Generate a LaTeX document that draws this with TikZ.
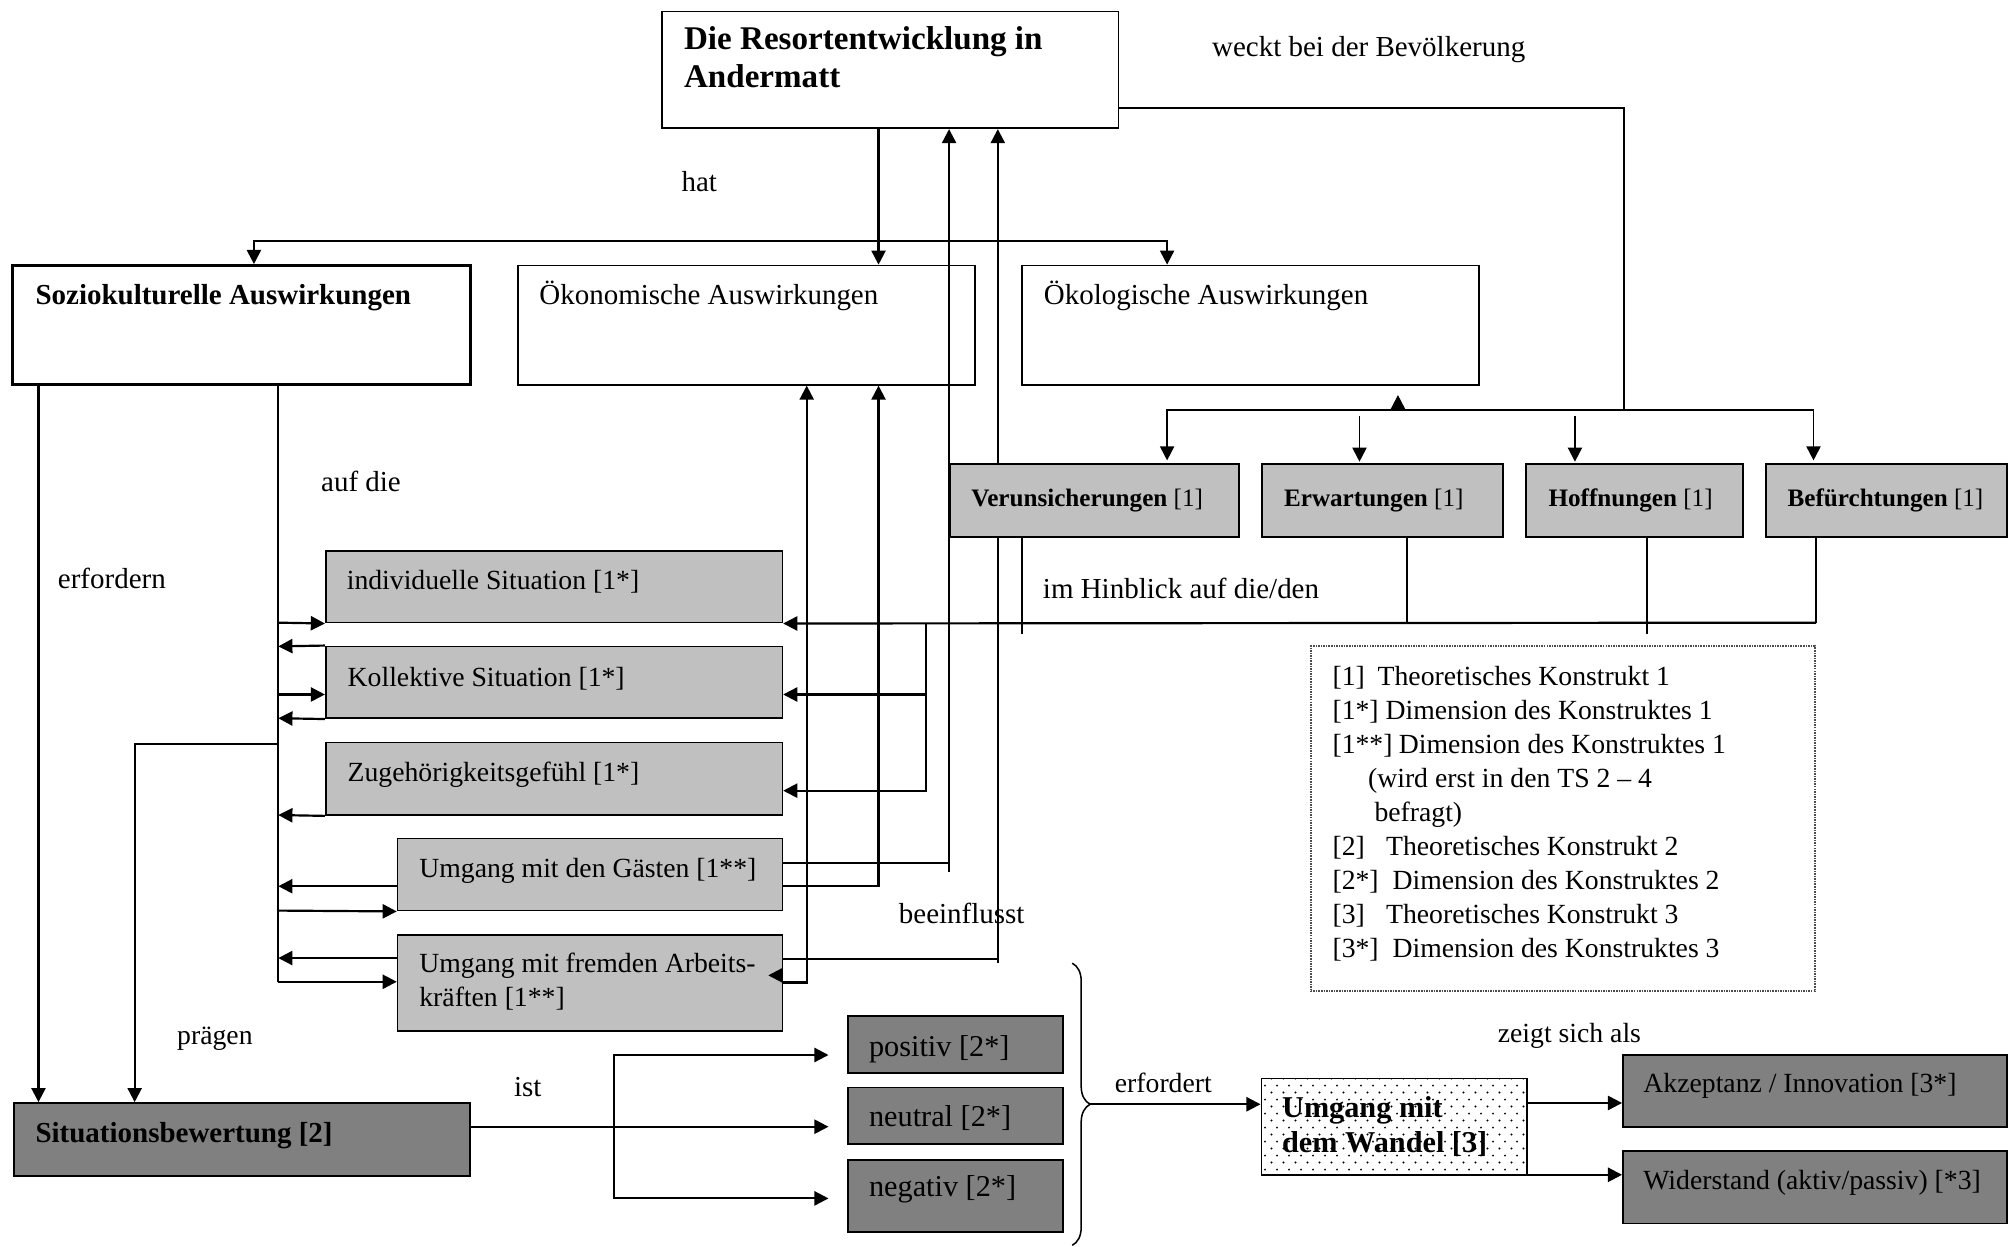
\documentclass[tikz,border=0pt]{standalone}
\usepackage{fontspec}
\setmainfont{Liberation Serif}
\usetikzlibrary{arrows.meta,fit,patterns,decorations.pathreplacing,calc}
\pgfdeclarelayer{bg}
\pgfsetlayers{bg,main}
\pgfdeclarepatternformonly{wdots}{\pgfpointorigin}{\pgfpoint{4.5pt}{5.4pt}}{\pgfpoint{4.5pt}{5.4pt}}{%
  \pgfpathcircle{\pgfpoint{0.6pt}{0.6pt}}{0.42pt}%
  \pgfpathcircle{\pgfpoint{2.85pt}{3.3pt}}{0.42pt}%
  \pgfusepath{fill}}
\definecolor{lgrayc}{HTML}{C0C0C0}
\definecolor{dgrayc}{HTML}{808080}
\newcommand\fsT{\fontsize{12.9}{15}\selectfont}
\newcommand\fsA{\fontsize{11.3}{13.5}\selectfont}
\newcommand\fsB{\fontsize{10.8}{13}\selectfont}
\newcommand\fsC{\fontsize{9.8}{12}\selectfont}
\newcommand\fsD{\fontsize{11.8}{14}\selectfont}
\begin{document}
\begin{tikzpicture}[x=0.5pt,y=-0.5pt,
  >={Triangle[length=5.5pt,width=5.5pt]},
  box/.style={draw=black,line width=0.65pt,inner sep=0pt},
  lgray/.style={box,fill=lgrayc},
  dgray/.style={box,fill=dgrayc},
  legendbox/.style={draw=black!70,line width=0.7pt,dash pattern=on 0.6pt off 0.4pt,inner sep=0pt},
  txt/.style={anchor=base west,inner sep=0pt,font=\fsA,yshift=-0.5pt},
  con/.style={line width=0.85pt},
  mid/.style={line width=0.75pt},
  thinc/.style={line width=0.6pt}]
\useasboundingbox (0,0) rectangle (1568,972);

% ---------- boxes ----------
\node[box,fit={(516,9) (872,100)}] (title) {};
\node[box,line width=1.1pt,fit={(10,207) (367,300)}] (sozio) {};
\node[box,fit={(404,207) (760,300)}] (oekon) {};
\node[box,fit={(797,207) (1153,300)}] (oekol) {};
\node[lgray,fit={(741,362) (966,418.5)}] (verun) {};
\node[lgray,fit={(984,362) (1172,418.5)}] (erw) {};
\node[lgray,fit={(1190,362) (1359,418.5)}] (hoff) {};
\node[lgray,fit={(1377,362) (1565,418.5)}] (befu) {};
\node[lgray,fit={(254,429.5) (610,485.5)}] (ind) {};
\node[lgray,fit={(254,504) (610,560)}] (koll) {};
\node[lgray,fit={(254,579) (610,635.5)}] (zug) {};
\node[lgray,fit={(310,653.7) (610,710)}] (gast) {};
\node[lgray,fit={(310,729) (610,803.7)}] (arb) {};
\node[legendbox,fit={(1022,504) (1415,773)}] (legend) {};
\node[dgray,fit={(11,860) (366.5,917)}] (sit) {};
\node[dgray,fit={(661,792) (829,836.4)}] (pos) {};
\node[dgray,fit={(661,848) (829,892)}] (neu) {};
\node[dgray,fit={(661,904.5) (829,960.4)}] (neg) {};
\node[box,preaction={fill=white},pattern=wdots,fit={(983.5,840.8) (1190.4,916.2)}] (wandel) {};
\node[dgray,fit={(1265.4,822.6) (1565,878.5)}] (akz) {};
\node[dgray,fit={(1265.4,897.2) (1565,953.9)}] (wid) {};

% ---------- connectors behind boxes ----------
\begin{pgfonlayer}{bg}
\draw[con] (gast.east |- 0,673) -- (740,673);
\draw[con,->] (740,680) -- (740,0 |- title.south);
\draw[con] (arb.east |- 0,748) -- (778,748);
\draw[con,->] (778,751) -- (778,0 |- title.south);
\end{pgfonlayer}

% ---------- connectors ----------
\draw[con,->] (685,0 |- title.south) -- (685,0 |- oekon.north);
\draw[mid,->] (685,188) -| (198,0 |- sozio.north);
\draw[mid,->] (685,188) -| (910,0 |- oekol.north);

\draw[con,->] (gast.east |- 0,691) -| (685,0 |- oekon.south);
\draw[con,->] (arb.east |- 0,766) -| (629,0 |- oekon.south);
\draw[con,->] (arb.east |- 0,760.5) -- (599,760.5);

\draw[mid] (title.east |- 0,84.5) -| (1266,320);
\draw[mid,->] (1266,320) -| (910,359);
\draw[mid,->] (1266,320) -| (1414,359);
\draw[mid,->] (1060,324) -- (1060,360);
\draw[mid,->] (1228,324) -- (1228,360);
\draw[mid,->] (1090,320) -- (1090,308);

\draw[thinc] (797,0 |- verun.south) -- (797,494);
\draw[thinc] (1097,0 |- erw.south) -- (1097,485.5);
\draw[thinc] (1284,0 |- hoff.south) -- (1284,494);
\draw[con] (1416,0 |- befu.south) -- (1416,485.5);
\draw[con,->] (1416,485.5) -- (ind.south east);
\draw[con,->] (722,485.5) |- (koll.east |- 0,541.5);
\draw[con,->] (722,541.5) |- (zug.east |- 0,616.5);

\draw[con,->] (30,0 |- sozio.south) -- (30,0 |- sit.north);
\draw[con] (217,0 |- sozio.south) -- (217,766);
\draw[con,->] (217,580) -| (105,0 |- sit.north);
\draw[con,->] (217,485.5) -- (ind.south west);
\draw[con,->] (217,541.5) -- (koll.west |- 0,541.5);
\draw[con,->] (217,710) -- (gast.south west);
\draw[con,->] (217,765.5) -- (arb.west |- 0,765.5);
\draw[con,->] (koll.north west) -- (217,504);
\draw[con,->] (koll.south west) -- (217,560);
\draw[con,->] (zug.south west) -- (217,635.5);
\draw[con,->] (gast.west |- 0,691) -- (217,691);
\draw[con,->] (arb.west |- 0,747) -- (217,747);

\draw[con,->] (sit.east |- 0,878.5) -- (646,878.5);
\draw[con,->] (479,878.5) |- (646,822.6);
\draw[con,->] (479,878.5) |- (646,934.4);
\draw[line width=0.6pt,decorate,decoration={brace,amplitude=7pt}] (836,751) -- (836,971);
\coordinate (btip) at (850,861);
\draw[con,->] (btip) -- (wandel.west |- btip);
\draw[con,->] (wandel.east |- 0,860) -- (akz.west |- 0,860);
\draw[con,->] (1172,916) -- (wid.west |- 0,916);

% ---------- texts ----------
\node[txt,font={\fsT\bfseries}] (t1) at (533,37.7) {Die Resortentwicklung in};
\node[txt,font={\fsT\bfseries}] (t2) at (533,67.6) {Andermatt};
\node[txt] (lweckt) at (944.7,42.9) {weckt bei der Bevölkerung};
\node[txt] (lhat) at (531,148) {hat};
\node[txt,font={\fsA\bfseries}] (tsozio) at (27.3,236.5) {Soziokulturelle Auswirkungen};
\node[txt] (toekon) at (420.2,236.5) {Ökonomische Auswirkungen};
\node[txt] (toekol) at (813.5,236.5) {Ökologische Auswirkungen};
\node[txt] (lauf) at (250,382) {auf die};
\node[txt] (lerf) at (44.8,457.5) {erfordern};
\node[txt,font=\fsC] (tverun) at (757,393.8) {\textbf{Verunsicherungen} [1]};
\node[txt,font=\fsC] (terw) at (1000.8,393.8) {\textbf{Erwartungen} [1]};
\node[txt,font=\fsC] (thoff) at (1207,393.8) {\textbf{Hoffnungen} [1]};
\node[txt,font=\fsC] (tbefu) at (1393.4,393.8) {\textbf{Befürchtungen} [1]};
\node[txt] (lhin) at (812.8,465.3) {im Hinblick auf die/den};
\node[txt,font=\fsB] (tind) at (270,458.7) {individuelle Situation [1*]};
\node[txt,font=\fsB] (tkoll) at (270.7,534) {Kollektive Situation [1*]};
\node[txt,font=\fsB] (tzug) at (270.7,608) {Zugehörigkeitsgefühl [1*]};
\node[txt,font=\fsB] (tgast) at (326.6,683) {Umgang mit den Gästen [1**]};
\node[txt,font=\fsB] (tarb1) at (326.6,757.6) {Umgang mit fremden Arbeits-};
\node[txt,font=\fsB] (tarb2) at (326.6,783.6) {kräften [1**]};
\node[txt] (lbee) at (700.5,718.7) {beeinflusst};
\node[txt,font=\fsB] (lpraeg) at (137.8,813.5) {prägen};
\node[txt] (list) at (400.4,853.8) {ist};
\node[txt,font={\fsA\bfseries}] (tsit) at (27.3,890.2) {Situationsbewertung [2]};
\node[txt,font=\fsD] (tpos) at (677.2,822.6) {positiv [2*]};
\node[txt,font=\fsD] (tneu) at (677.2,877.2) {neutral [2*]};
\node[txt,font=\fsD] (tneg) at (677.2,931.8) {negativ [2*]};
\node[txt,font=\fsB] (lerfd) at (868.9,851.2) {erfordert};
\node[txt,font={\fsD\bfseries}] (tw1) at (999.3,870.7) {Umgang mit};
\node[txt,font={\fsD\bfseries}] (tw2) at (999.3,898) {dem Wandel [3]};
\node[txt,font=\fsB] (lzeigt) at (1167.5,812.2) {zeigt sich als};
\node[txt,font=\fsB] (takz) at (1281,851.2) {Akzeptanz / Innovation [3*]};
\node[txt,font=\fsB] (twid) at (1281,926.6) {Widerstand (aktiv/passiv) [*3]};

% legend
\node[txt,font=\fsB] (lg1) at (1038.6,533.3) {\makebox[17.6pt][l]{[1]}Theoretisches Konstrukt 1};
\node[txt,font=\fsB] (lg2) at (1038.6,559.8) {\makebox[20.7pt][l]{[1*]}Dimension des Konstruktes 1};
\node[txt,font=\fsB] (lg3) at (1038.6,586.3) {\makebox[25.9pt][l]{[1**]}Dimension des Konstruktes 1};
\node[txt,font=\fsB] (lg4) at (1066.3,612.8) {(wird erst in den TS 2 – 4};
\node[txt,font=\fsB] (lg5) at (1071.3,639.3) {befragt)};
\node[txt,font=\fsB] (lg6) at (1038.6,665.8) {\makebox[20.9pt][l]{[2]}Theoretisches Konstrukt 2};
\node[txt,font=\fsB] (lg7) at (1038.6,692.3) {\makebox[23.4pt][l]{[2*]}Dimension des Konstruktes 2};
\node[txt,font=\fsB] (lg8) at (1038.6,718.8) {\makebox[20.9pt][l]{[3]}Theoretisches Konstrukt 3};
\node[txt,font=\fsB] (lg9) at (1038.6,745.3) {\makebox[23.4pt][l]{[3*]}Dimension des Konstruktes 3};
\end{tikzpicture}
\end{document}
